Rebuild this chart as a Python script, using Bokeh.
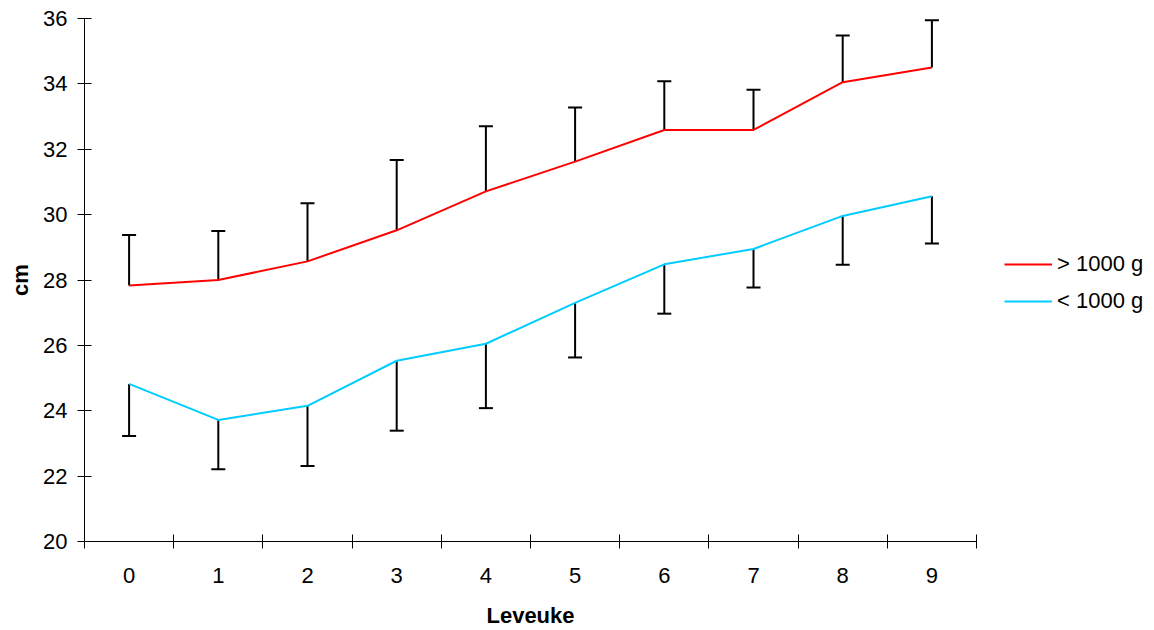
from bokeh.plotting import figure
from bokeh.layouts import row
from bokeh.models import FixedTicker, Whisker, TeeHead, Legend, LegendItem, ColumnDataSource
from bokeh.embed import file_html
from bokeh.resources import INLINE

weeks = [0, 1, 2, 3, 4, 5, 6, 7, 8, 9]
week_labels = ["0", "1", "2", "3", "4", "5", "6", "7", "8", "9"]
over_1000 = [27.83, 28.0, 28.57, 29.52, 30.71, 31.62, 32.59, 32.59, 34.05, 34.50]
over_1000_sd = [1.55, 1.50, 1.78, 2.15, 1.99, 1.66, 1.49, 1.23, 1.43, 1.45]
under_1000 = [24.82, 23.72, 24.15, 25.53, 26.05, 27.30, 28.48, 28.95, 29.96, 30.56]
under_1000_sd = [1.59, 1.51, 1.84, 2.14, 1.97, 1.67, 1.51, 1.18, 1.49, 1.44]
y_ticks = [20, 22, 24, 26, 28, 30, 32, 34, 36]
series_labels = ["> 1000 g", "< 1000 g"]
series_colors = ["#FF0000", "#00CCFF"]

FONT = "Liberation Sans"
FS = "22px"

p = figure(width=978, height=630, output_backend="svg", toolbar_location=None,
           x_range=(-0.5, 9.5), y_range=(20, 36))
p.min_border_left = 84
p.min_border_right = 2
p.min_border_top = 18
p.min_border_bottom = 87
p.outline_line_color = None
p.xgrid.visible = False
p.ygrid.visible = False
p.background_fill_color = "white"
p.border_fill_color = "white"

red_src = ColumnDataSource(dict(
    x=weeks, y=over_1000,
    up=[v + e for v, e in zip(over_1000, over_1000_sd)]))
blue_src = ColumnDataSource(dict(
    x=weeks, y=under_1000,
    lo=[v - e for v, e in zip(under_1000, under_1000_sd)]))

w1 = Whisker(source=red_src, base="x", lower="y", upper="up", dimension="height",
             line_color="black", line_width=2,
             upper_head=TeeHead(size=14, line_width=2, line_color="black"),
             lower_head=None)
w2 = Whisker(source=blue_src, base="x", lower="lo", upper="y", dimension="height",
             line_color="black", line_width=2,
             lower_head=TeeHead(size=14, line_width=2, line_color="black"),
             upper_head=None)
p.add_layout(w1)
p.add_layout(w2)

p.line("x", "y", source=red_src, line_color=series_colors[0], line_width=2)
p.line("x", "y", source=blue_src, line_color=series_colors[1], line_width=2)

# axes
p.xaxis.ticker = FixedTicker(ticks=weeks, minor_ticks=[w - 0.5 for w in weeks] + [9.5])
p.xaxis.major_label_overrides = {w: l for w, l in zip(weeks, week_labels)}
p.xaxis.major_tick_in = 0
p.xaxis.major_tick_out = 0
p.xaxis.minor_tick_in = 7
p.xaxis.minor_tick_out = 7
p.xaxis.minor_tick_line_color = "black"
p.xaxis.axis_line_color = "black"
p.xaxis.major_label_standoff = 19
p.xaxis.axis_label = "Leveuke"
p.xaxis.axis_label_standoff = 17

p.yaxis.ticker = FixedTicker(ticks=y_ticks, minor_ticks=[])
p.yaxis.major_tick_in = 7
p.yaxis.major_tick_out = 7
p.yaxis.major_tick_line_color = "black"
p.yaxis.axis_line_color = "black"
p.yaxis.major_label_standoff = 10
p.yaxis.axis_label = "cm"
p.yaxis.axis_label_standoff = 7

for ax in (p.xaxis[0], p.yaxis[0]):
    ax.major_label_text_font = FONT
    ax.major_label_text_font_size = FS
    ax.major_label_text_color = "black"
    ax.axis_label_text_font = FONT
    ax.axis_label_text_font_size = FS
    ax.axis_label_text_font_style = "bold"
    ax.axis_label_text_color = "black"

# legend panel on the right (its frame is aligned with the main plot's frame)
lf = figure(width=176, height=630, output_backend="svg", toolbar_location=None,
            x_range=(0, 1), y_range=(0, 1))
lf.min_border = 0
lf.outline_line_color = None
lf.axis.visible = False
lf.grid.visible = False
lf.background_fill_color = "white"
lf.border_fill_color = "white"
# legend sample renderers, kept outside the visible range
lr1 = lf.line(x=[0, 1], y=[5, 5], line_color=series_colors[0], line_width=2)
lr2 = lf.line(x=[0, 1], y=[5, 5], line_color=series_colors[1], line_width=2)

legend = Legend(items=[LegendItem(label=series_labels[0], renderers=[lr1]),
                       LegendItem(label=series_labels[1], renderers=[lr2])],
                location=(26, 227))
legend.padding = 0
legend.margin = 0
legend.border_line_alpha = 0
legend.background_fill_alpha = 0
legend.glyph_width = 48
legend.glyph_height = 20
legend.label_height = 20
legend.label_standoff = 5
legend.spacing = 11
legend.label_text_font = FONT
legend.label_text_font_size = FS
legend.label_text_color = "black"
lf.add_layout(legend)

layout = row(p, lf, spacing=0)
open("out.html", "w").write(file_html(layout, INLINE))
